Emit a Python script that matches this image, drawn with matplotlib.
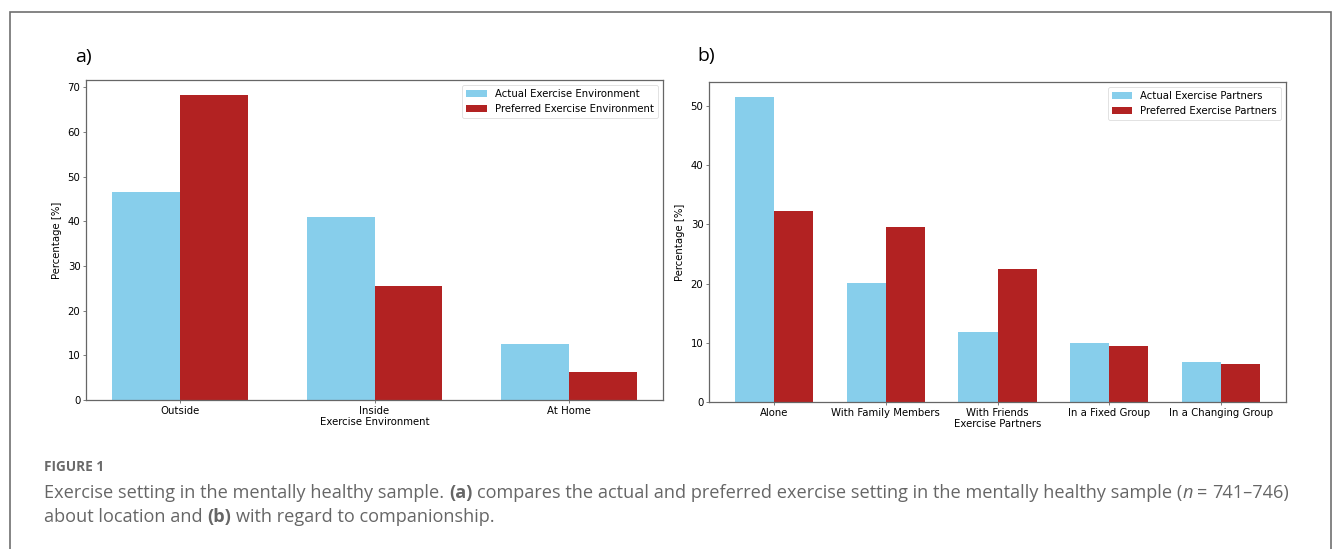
import matplotlib
matplotlib.use("Agg")
import matplotlib.pyplot as plt
import numpy as np
from matplotlib.patches import Rectangle

# exercise environment (panel a)
env_labels = ["Outside", "Inside", "At Home"]
env_actual = [46.6, 40.9, 12.5]
env_preferred = [68.2, 25.4, 6.3]

# exercise partners (panel b)
partner_labels = ["Alone", "With Family Members", "With Friends",
                  "In a Fixed Group", "In a Changing Group"]
partner_actual = [51.5, 20.1, 11.8, 9.9, 6.8]
partner_preferred = [32.2, 29.5, 22.4, 9.4, 6.4]

W, H = 1333, 549
fig = plt.figure(figsize=(W / 100, H / 100), dpi=100)

def px_axes(l, t, r, b):
    return fig.add_axes([l / W, 1 - b / H, (r - l) / W, (b - t) / H])

FS = 7.3
SPINE = "#666666"

def grouped(ax, labels, actual, preferred, names, xlabel):
    x = np.arange(len(labels))
    w = 0.35
    ax.bar(x - w / 2, actual, w, color="skyblue", label=names[0])
    ax.bar(x + w / 2, preferred, w, color="firebrick", label=names[1])
    ax.set_xticks(x)
    ax.set_xticklabels(labels, fontsize=FS)
    ax.set_xlabel(xlabel, fontsize=FS, labelpad=1)
    ax.set_ylabel("Percentage [%]", fontsize=FS, labelpad=4)
    ax.tick_params(labelsize=FS, length=2.5, width=0.6, pad=1.5, color=SPINE)
    for s in ax.spines.values():
        s.set_color(SPINE)
        s.set_linewidth(0.9)
    leg = ax.legend(fontsize=FS, loc="upper right", handlelength=2.0,
                    borderpad=0.4, labelspacing=0.45, framealpha=1)
    leg.get_frame().set_edgecolor("#dddddd")
    leg.get_frame().set_linewidth(0.6)

ax1 = px_axes(86, 80, 663, 400)
grouped(ax1, env_labels, env_actual, env_preferred,
        ["Actual Exercise Environment", "Preferred Exercise Environment"],
        "Exercise Environment")

ax2 = px_axes(709, 82, 1286, 402)
grouped(ax2, partner_labels, partner_actual, partner_preferred,
        ["Actual Exercise Partners", "Preferred Exercise Partners"],
        "Exercise Partners")

# panel letters
fig.text(75 / W, 1 - 57 / H, "a)", fontsize=14, family="Open Sans", va="center")
fig.text(697 / W, 1 - 56 / H, "b)", fontsize=14, family="Open Sans", va="center")

# outer frame
fig.add_artist(Rectangle((9.5 / W, -0.05), (1331 - 9.5) / W, 1.05 - 11.5 / H,
                         transform=fig.transFigure, fill=False,
                         edgecolor="#6f6f6f", linewidth=1.2))

# caption
CAP = "#666666"
CFONT = "Open Sans"
CFS = 13.1
fig.text(44 / W, 1 - 467 / H, "FIGURE 1", fontsize=9.8, family=CFONT,
         weight="bold", color="#6a6a6a", va="center")

renderer = fig.canvas.get_renderer()

def text_width(s, **kw):
    t = fig.text(0, 0, s, fontsize=CFS, family=CFONT, **kw)
    w = t.get_window_extent(renderer).width
    t.remove()
    return w

space_w = text_width("x x") - text_width("xx")

def rich_line(x, y, parts):
    for s, kw in parts:
        if s == " ":
            x += space_w
            continue
        t = fig.text(x / W, 1 - y / H, s, fontsize=CFS, family=CFONT,
                     color=CAP, va="baseline", **kw)
        x += t.get_window_extent(renderer).width

rich_line(44, 498, [
    ("Exercise setting in the mentally healthy sample.", {}), (" ", {}),
    ("(a)", {"weight": "bold"}), (" ", {}),
    ("compares the actual and preferred exercise setting in the mentally healthy sample (", {}),
    ("n", {"style": "italic"}), (" ", {}),
    ("=", {}), (" ", {}), ("741\u2013746)", {}),
])
rich_line(44, 522, [
    ("about location and", {}), (" ", {}),
    ("(b)", {"weight": "bold"}), (" ", {}),
    ("with regard to companionship.", {}),
])

fig.savefig("out.png", dpi=100)
